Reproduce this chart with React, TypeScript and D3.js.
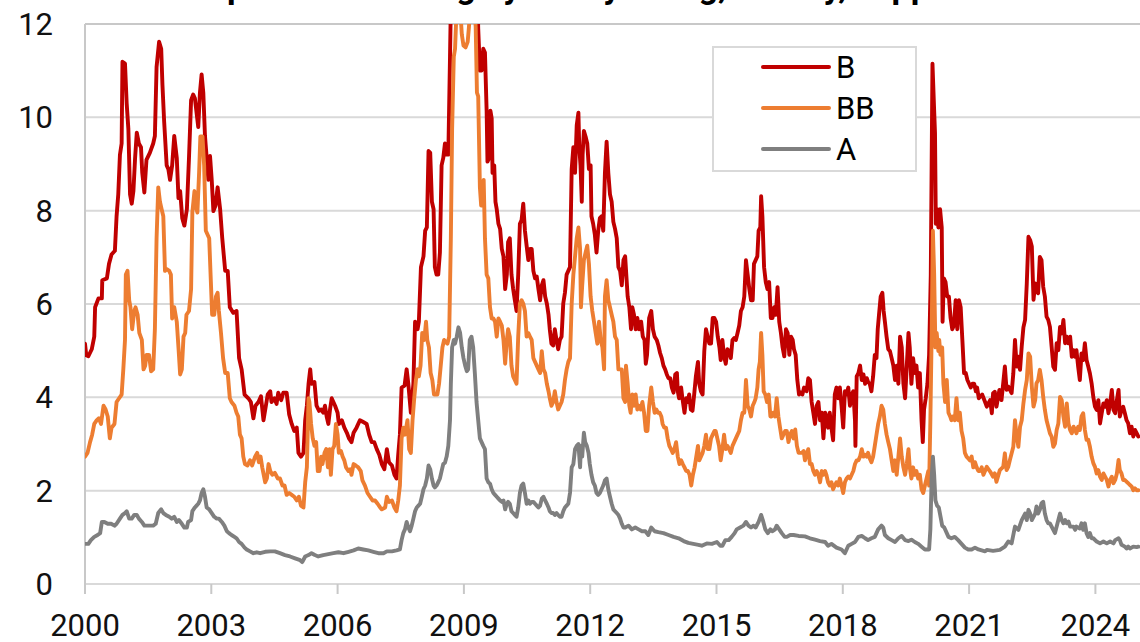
import React from "react";
import * as d3 from "d3";

const titleText = "Spreads in US high yield by rating, weekly, in pp";
const seriesNames = ["B", "BB", "A"];
const xTickYears = [2000, 2003, 2006, 2009, 2012, 2015, 2018, 2021, 2024];
const yTickValues = [0, 2, 4, 6, 8, 10, 12];

const bPoints: [number, number][] = [
[2000.00,5.15],[2000.03,4.9],[2000.08,4.88],[2000.16,5.03],[2000.22,5.3],[2000.24,5.93],[2000.32,6.12],[2000.40,6.12],[2000.41,6.51],[2000.52,6.55],[2000.57,6.86],[2000.63,7.06],[2000.71,7.14],[2000.75,7.88],[2000.79,8.35],[2000.83,9.2],[2000.87,9.44],[2000.89,11.19],[2000.95,11.15],[2000.99,10.3],[2001.03,9.75],[2001.07,8.35],[2001.11,8.15],[2001.15,8.42],[2001.19,9.13],[2001.23,9.67],[2001.28,9.44],[2001.33,9.36],[2001.36,8.81],[2001.41,8.39],[2001.46,9.09],[2001.54,9.24],[2001.62,9.44],[2001.66,9.6],[2001.70,11.08],[2001.76,11.62],[2001.81,11.47],[2001.84,10.69],[2001.88,9.91],[2001.94,8.97],[2001.98,8.89],[2002.02,8.66],[2002.07,8.97],[2002.12,9.6],[2002.18,9.13],[2002.22,8.27],[2002.26,8.42],[2002.31,7.84],[2002.36,7.68],[2002.42,8.03],[2002.47,9.13],[2002.52,10.37],[2002.57,10.49],[2002.61,10.41],[2002.69,9.79],[2002.73,10.53],[2002.77,10.92],[2002.81,10.53],[2002.85,9.6],[2002.89,9.13],[2002.93,8.66],[2002.97,9.17],[2003.01,8.66],[2003.05,7.99],[2003.10,8.11],[2003.15,8.5],[2003.21,8.03],[2003.26,7.41],[2003.33,6.71],[2003.39,6.71],[2003.44,5.93],[2003.52,5.81],[2003.60,5.85],[2003.66,4.84],[2003.72,4.6],[2003.79,4.06],[2003.88,3.98],[2003.94,3.9],[2004.00,3.55],[2004.05,3.82],[2004.12,3.9],[2004.18,4.02],[2004.24,3.51],
[2004.34,4.06],[2004.40,4.13],[2004.43,3.9],[2004.50,3.98],[2004.55,3.86],[2004.59,4.1],[2004.66,3.94],[2004.71,4.1],[2004.79,4.1],[2004.85,3.63],[2004.91,3.43],[2004.97,3.28],[2005.03,3.35],[2005.07,2.81],[2005.13,2.73],[2005.19,2.81],[2005.23,3.51],[2005.27,3.82],[2005.31,4.29],[2005.35,4.6],[2005.38,4.29],[2005.45,4.33],[2005.50,3.82],[2005.56,3.71],[2005.61,3.74],[2005.66,3.67],[2005.70,3.82],[2005.74,3.59],[2005.78,3.43],[2005.82,3.74],[2005.86,3.98],[2005.94,3.82],[2006.00,3.67],[2006.03,3.43],[2006.10,3.51],[2006.16,3.35],[2006.22,3.24],[2006.27,3.12],[2006.33,3.04],[2006.38,3.24],[2006.45,3.35],[2006.53,3.51],[2006.61,3.47],[2006.69,3.43],[2006.75,3.2],[2006.81,3.04],[2006.87,3.04],[2006.93,2.89],[2006.99,2.77],[2007.05,2.57],[2007.11,2.46],[2007.17,2.89],[2007.22,2.61],[2007.29,2.54],[2007.35,2.34],[2007.40,2.26],[2007.44,2.77],[2007.48,3.2],[2007.52,4.21],[2007.59,4.25],[2007.64,4.6],[2007.68,4.29],[2007.74,3.67],[2007.80,4.29],[2007.84,5.62],[2007.90,5.46],[2007.93,5.62],[2007.98,6.79],[2008.04,7.02],[2008.08,7.57],[2008.12,7.64],[2008.16,9.28],[2008.20,9.24],[2008.24,8.19],[2008.28,8.03],[2008.31,6.79],[2008.35,6.63],[2008.39,6.63],[2008.43,7.1],[2008.47,8.97],[2008.51,9.13],[2008.55,9.44],
[2008.59,9.2],[2008.63,9.2],[2008.67,11.3],[2008.71,13.5],[2008.79,15.5],[2008.91,17],[2009.03,16.5],[2009.14,16],[2009.26,14],[2009.33,12.3],[2009.34,11.9],[2009.38,11.0],[2009.42,11.0],[2009.46,11.47],[2009.50,11.39],[2009.54,10.14],[2009.56,9.05],[2009.60,9.13],[2009.63,10.14],[2009.66,9.98],[2009.68,8.81],[2009.72,8.97],[2009.75,8.19],[2009.78,8.03],[2009.82,7.72],[2009.86,7.61],[2009.90,7.18],[2009.94,7.02],[2009.98,6.32],[2010.02,6.63],[2010.05,7.33],[2010.09,7.41],[2010.13,6.63],[2010.17,6.32],[2010.21,6.08],[2010.25,5.85],[2010.29,6.63],[2010.33,7.72],[2010.37,7.8],[2010.41,8.15],[2010.45,7.57],[2010.49,7.25],[2010.53,6.94],[2010.57,7.18],[2010.61,7.18],[2010.65,6.71],[2010.69,6.55],[2010.73,6.59],[2010.77,6.32],[2010.81,6.08],[2010.85,6.4],[2010.89,6.51],[2010.93,6.16],[2010.97,6.01],[2011.01,5.77],[2011.04,5.46],[2011.08,5.15],[2011.12,5.11],[2011.16,5.46],[2011.20,5.23],[2011.24,5.03],[2011.28,5.23],[2011.32,5.3],[2011.36,6.01],[2011.40,6.24],[2011.44,6.63],[2011.48,6.71],[2011.52,6.79],[2011.56,8.89],[2011.60,9.36],[2011.64,8.81],[2011.68,9.83],[2011.72,10.1],[2011.74,9.36],[2011.77,8.97],[2011.80,8.19],[2011.82,9.2],[2011.85,9.71],[2011.89,9.59],[2011.93,9.44],[2011.97,8.89],[2012.01,8.97],[2012.03,7.88],[2012.07,7.72],[2012.11,7.49],[2012.15,7.1],[2012.19,7.57],[2012.23,7.84],[2012.27,7.88],[2012.31,7.57],[2012.35,8.81],[2012.39,9.48],[2012.43,8.81],[2012.47,8.35],[2012.51,8.19],[2012.55,7.76],[2012.59,7.61],[2012.63,7.41],[2012.67,6.79],[2012.71,6.71],[2012.75,6.4],[2012.79,6.94],[2012.83,7.02],
[2012.89,6.16],[2012.93,5.93],[2012.97,5.46],[2013.00,5.93],[2013.04,5.77],[2013.08,5.46],[2013.12,5.7],[2013.16,5.46],[2013.21,5.62],[2013.25,5.3],[2013.29,5.23],[2013.32,4.72],[2013.35,4.91],[2013.40,5.7],[2013.45,5.85],[2013.49,5.46],[2013.53,5.3],[2013.58,5.23],[2013.62,5.11],[2013.66,4.95],[2013.70,4.84],[2013.74,4.68],[2013.78,4.6],[2013.82,4.49],[2013.86,4.41],[2013.90,4.41],[2013.94,4.21],[2013.98,4.1],[2014.02,4.49],[2014.06,4.52],[2014.08,4.13],[2014.11,3.98],[2014.16,4.21],[2014.19,3.98],[2014.24,3.67],[2014.28,3.98],[2014.32,3.9],[2014.35,4.06],[2014.39,3.74],[2014.43,3.71],[2014.47,4.06],[2014.51,4.45],[2014.56,4.76],[2014.59,4.29],[2014.63,4.13],[2014.67,4.06],[2014.71,4.99],[2014.75,5.46],[2014.79,5.3],[2014.83,5.15],[2014.87,5.15],[2014.91,5.7],[2014.95,5.7],[2014.99,5.62],[2015.03,5.3],[2015.07,5.07],[2015.10,4.8],[2015.14,5.23],[2015.18,4.88],[2015.22,4.72],[2015.26,5.03],[2015.30,4.99],[2015.34,4.84],[2015.38,5.23],[2015.42,5.27],[2015.46,5.23],[2015.50,5.38],[2015.54,5.54],[2015.58,5.85],[2015.62,5.93],[2015.66,6.16],[2015.70,6.94],[2015.74,6.63],[2015.78,6.32],[2015.82,6.08],[2015.86,6.08],[2015.89,6.86],[2015.93,6.94],[2015.97,7.02],[2016.00,7.57],[2016.04,7.64],[2016.06,8.31],[2016.09,7.88],[2016.13,6.79],[2016.17,6.47],[2016.21,6.32],[2016.25,6.47],[2016.29,5.7],[2016.33,5.7],[2016.37,5.93],[2016.41,5.77],[2016.45,6.36],[2016.49,5.62],[2016.53,5.38],[2016.57,5.07],[2016.61,4.88],[2016.65,5.46],[2016.69,5.38],[2016.73,4.91],[2016.77,5.3],[2016.81,5.23],[2016.84,5.03],[2016.88,4.91],[2016.92,4.37],[2016.96,4.06],[2017.00,4.1],[2017.04,4.06],[2017.08,4.21],
[2017.14,4.13],[2017.18,4.41],[2017.22,4.37],[2017.26,3.9],[2017.30,3.67],[2017.34,3.43],[2017.38,3.82],[2017.42,3.9],[2017.46,3.51],[2017.50,3.67],[2017.54,3.12],[2017.58,3.67],[2017.61,3.59],[2017.65,3.35],[2017.69,3.67],[2017.73,3.35],[2017.77,3.08],[2017.81,4.06],[2017.85,4.21],[2017.89,3.98],[2017.93,4.21],[2017.97,3.82],[2018.01,3.35],[2018.05,4.13],[2018.09,4.06],[2018.13,4.21],[2018.17,3.82],[2018.21,4.06],[2018.25,4.13],[2018.29,3.5],[2018.30,2.96],[2018.33,4.45],[2018.37,4.52],[2018.41,4.68],[2018.45,4.37],[2018.49,4.49],[2018.53,4.29],[2018.57,4.41],[2018.60,4.33],[2018.64,4.29],[2018.68,4.13],[2018.72,4.45],[2018.76,4.91],[2018.80,4.84],[2018.83,5.46],[2018.86,5.77],[2018.90,6.16],[2018.94,6.24],[2018.97,5.85],[2019.00,5.62],[2019.04,5.3],[2019.08,5.03],[2019.12,4.99],[2019.16,4.84],[2019.20,4.68],[2019.24,4.37],[2019.28,4.68],[2019.32,4.29],[2019.36,5.3],[2019.40,5.07],[2019.44,4.29],[2019.48,3.98],[2019.52,4.68],[2019.56,5.38],[2019.59,5.07],[2019.63,4.29],[2019.67,4.84],[2019.71,4.52],[2019.75,4.68],[2019.79,4.21],[2019.83,4.52],[2019.87,3.51],[2019.90,3.04],[2019.93,3.74],[2019.97,3.98],[2020.01,4.29],[2020.05,4.91],[2020.09,6.63],[2020.11,8.97],[2020.13,11.15],[2020.17,10.14],[2020.19,9.67],[2020.21,7.72],[2020.24,8.03],[2020.27,7.64],[2020.31,8.03],[2020.35,7.64],[2020.37,5.62],[2020.40,6.55],[2020.44,6.47],[2020.48,6.16],[2020.52,6.16],[2020.56,5.7],[2020.60,5.46],[2020.64,5.54],[2020.68,6.08],[2020.72,5.46],[2020.76,6.08],[2020.80,5.93],[2020.84,5.23],[2020.88,4.52],[2020.92,4.52],[2020.96,4.37],[2021.00,4.29],[2021.04,4.21],[2021.08,4.29],[2021.12,4.29],[2021.16,4.13],[2021.19,4.21],[2021.23,3.98],[2021.31,4.06],[2021.38,3.9],
[2021.42,3.8],[2021.50,3.94],[2021.54,3.66],[2021.57,4.09],[2021.61,4.12],[2021.65,3.8],[2021.72,4.16],[2021.77,3.94],[2021.85,4.66],[2021.89,4.16],[2021.93,4.23],[2022.01,4.09],[2022.05,4.51],[2022.09,5.23],[2022.13,4.66],[2022.17,4.87],[2022.21,4.59],[2022.25,5.09],[2022.29,5.5],[2022.33,5.66],[2022.37,6.44],[2022.41,7.44],[2022.45,7.37],[2022.49,7.23],[2022.53,6.09],[2022.57,6.44],[2022.60,6.3],[2022.64,6.23],[2022.68,7.01],[2022.72,6.94],[2022.76,6.37],[2022.80,6.16],[2022.84,5.73],[2022.88,5.66],[2022.92,5.51],[2022.96,5.09],[2023.00,4.66],[2023.04,4.59],[2023.08,5.16],[2023.12,5.01],[2023.16,5.51],[2023.20,5.37],[2023.24,5.66],[2023.28,5.16],[2023.32,5.3],[2023.36,5.16],[2023.40,5.3],[2023.44,4.87],[2023.48,5.01],[2023.52,4.87],[2023.55,5.01],[2023.59,4.66],[2023.63,4.37],[2023.67,4.94],[2023.71,4.8],[2023.75,5.16],[2023.79,4.8],[2023.83,4.66],[2023.87,4.51],[2023.91,4.3],[2023.95,4.01],[2023.99,3.8],[2024.03,3.73],[2024.07,3.94],[2024.11,3.44],[2024.15,3.66],[2024.19,3.87],[2024.23,3.8],[2024.27,3.94],[2024.31,3.66],[2024.35,3.87],[2024.39,4.16],[2024.43,3.73],[2024.47,3.66],[2024.51,3.94],[2024.55,4.16],[2024.58,3.59],[2024.62,3.73],[2024.66,3.8],[2024.70,3.66],[2024.74,3.51],[2024.78,3.44],[2024.82,3.23],[2024.86,3.37],[2024.90,3.16],[2024.94,3.3],[2024.98,3.23],[2025.02,3.16]
];

const bbPoints: [number, number][] = [
[2000.00,2.73],[2000.06,2.81],[2000.12,3.04],[2000.17,3.2],[2000.22,3.43],[2000.28,3.51],[2000.33,3.55],[2000.38,3.43],[2000.44,3.82],[2000.49,3.74],[2000.54,3.59],[2000.59,3.12],[2000.63,3.35],[2000.70,3.43],[2000.75,3.9],[2000.81,3.98],[2000.87,4.06],[2000.91,4.6],[2000.95,5.23],[2000.97,6.63],[2001.01,6.71],[2001.05,6.08],[2001.08,5.93],[2001.12,5.46],[2001.17,5.85],[2001.20,5.93],[2001.25,5.77],[2001.29,5.38],[2001.35,5.23],[2001.39,4.6],[2001.43,4.68],[2001.46,4.91],[2001.52,4.91],[2001.57,4.56],[2001.62,4.6],[2001.66,5.46],[2001.70,7.41],[2001.74,8.5],[2001.78,8.19],[2001.82,8.03],[2001.86,7.88],[2001.90,6.71],[2001.94,6.75],[2002.00,6.71],[2002.04,6.63],[2002.07,5.69],[2002.12,5.93],[2002.18,5.62],[2002.22,5.07],[2002.26,4.49],[2002.30,4.6],[2002.34,5.3],[2002.38,5.38],[2002.41,5.77],[2002.47,5.85],[2002.52,6.32],[2002.55,7.96],[2002.60,8.42],[2002.63,8.11],[2002.67,7.96],[2002.71,8.81],[2002.74,9.59],[2002.79,9.59],[2002.83,8.97],[2002.87,7.57],[2002.91,7.49],[2002.95,7.41],[2002.99,6.47],[2003.02,5.77],[2003.07,5.77],[2003.11,6.16],[2003.15,6.24],[2003.18,5.85],[2003.23,5.38],[2003.28,4.84],[2003.33,4.52],[2003.39,4.52],[2003.44,3.98],[2003.48,3.9],[2003.55,3.82],[2003.60,3.67],[2003.64,3.59],[2003.68,3.2],[2003.72,3.12],[2003.76,2.73],[2003.80,2.57],[2003.86,2.54],[2003.92,2.65],[2003.97,2.54],[2004.04,2.73],[2004.09,2.81],[2004.13,2.61],[2004.17,2.73],[2004.21,2.5],[2004.28,2.18],
[2004.32,2.26],[2004.36,2.57],[2004.40,2.42],[2004.45,2.34],[2004.51,2.38],[2004.58,2.26],[2004.63,2.26],[2004.69,2.11],[2004.74,2.11],[2004.79,1.91],[2004.85,1.95],[2004.91,1.91],[2004.97,1.87],[2005.03,1.79],[2005.08,1.87],[2005.13,1.68],[2005.19,1.64],[2005.23,2.18],[2005.27,2.5],[2005.31,3.98],[2005.33,3.9],[2005.37,3.43],[2005.41,3.12],[2005.45,2.96],[2005.49,3.04],[2005.53,2.42],[2005.57,2.42],[2005.61,2.73],[2005.64,2.57],[2005.69,2.81],[2005.73,2.89],[2005.77,2.5],[2005.81,2.89],[2005.84,2.34],[2005.88,2.89],[2005.92,2.96],[2005.96,3.43],[2006.00,3.2],[2006.03,2.81],[2006.08,2.85],[2006.12,2.73],[2006.16,2.65],[2006.20,2.5],[2006.26,2.42],[2006.30,2.46],[2006.33,2.34],[2006.38,2.57],[2006.43,2.54],[2006.49,2.5],[2006.55,2.42],[2006.59,2.22],[2006.65,2.11],[2006.71,1.95],[2006.77,1.87],[2006.83,1.79],[2006.89,1.79],[2006.95,1.72],[2007.01,1.64],[2007.05,1.6],[2007.13,1.64],[2007.17,1.87],[2007.22,1.76],[2007.29,1.79],[2007.35,1.64],[2007.40,1.56],[2007.44,1.79],[2007.48,2.11],[2007.52,3.12],[2007.56,3.35],[2007.60,3.2],[2007.66,3.51],[2007.70,2.89],[2007.74,2.81],[2007.78,3.51],[2007.82,3.98],[2007.86,4.37],[2007.90,4.6],[2007.93,4.45],[2007.97,4.68],[2008.01,5.38],[2008.06,5.23],[2008.10,5.62],[2008.13,5.23],[2008.17,5.07],[2008.21,4.52],[2008.25,4.37],[2008.29,4.06],[2008.33,4.06],[2008.37,4.06],[2008.41,4.29],[2008.45,4.68],[2008.49,5.07],[2008.53,5.23],
[2008.61,5.15],[2008.65,5.3],[2008.69,7.41],[2008.72,9.75],[2008.76,11.3],[2008.79,11.47],[2008.83,12.4],[2008.88,12.8],[2008.95,11.78],[2008.99,11.54],[2009.04,11.5],[2009.09,11.62],[2009.12,11.94],[2009.17,12.6],[2009.22,12.8],[2009.28,11.94],[2009.31,10.53],[2009.34,10.45],[2009.38,8.5],[2009.41,8.11],[2009.44,8.11],[2009.47,8.66],[2009.50,7.41],[2009.54,6.63],[2009.58,6.55],[2009.62,5.93],[2009.66,5.69],[2009.70,5.69],[2009.74,5.62],[2009.78,5.3],[2009.82,5.69],[2009.86,5.62],[2009.90,5.54],[2009.94,5.23],[2009.98,4.72],[2010.02,5.23],[2010.05,5.46],[2010.09,5.3],[2010.13,4.68],[2010.17,4.45],[2010.21,4.37],[2010.25,4.29],[2010.29,5.3],[2010.33,6.01],[2010.37,6.08],[2010.41,6.01],[2010.45,5.85],[2010.49,5.3],[2010.53,5.38],[2010.57,5.3],[2010.61,5.23],[2010.65,4.84],[2010.69,4.76],[2010.73,4.68],[2010.77,4.6],[2010.81,4.52],[2010.85,4.99],[2010.89,4.6],[2010.93,4.52],[2010.97,4.29],[2011.01,4.13],[2011.04,3.98],[2011.08,3.82],[2011.12,3.9],[2011.16,4.13],[2011.20,3.9],[2011.24,3.74],[2011.28,3.82],[2011.32,3.9],[2011.36,4.06],[2011.40,4.37],[2011.44,4.6],[2011.48,4.76],[2011.52,4.84],[2011.56,6.01],[2011.60,6.63],[2011.64,7.02],[2011.68,7.41],[2011.72,7.64],[2011.76,7.18],[2011.78,5.93],[2011.81,6.4],[2011.85,6.94],[2011.89,7.1],[2011.93,7.25],[2011.97,6.86],[2012.01,6.16],[2012.05,5.85],[2012.09,5.62],[2012.13,5.38],[2012.17,5.15],[2012.21,5.62],[2012.25,5.23],[2012.29,5.07],[2012.33,4.6],[2012.35,6.16],[2012.39,6.51],[2012.43,6.08],[2012.47,5.93],[2012.51,5.77],[2012.55,5.62],[2012.59,5.3],[2012.63,5.23],[2012.67,4.6],[2012.71,4.6],[2012.75,4.6],[2012.79,3.98],[2012.83,3.9],
[2012.85,4.68],[2012.89,4.29],[2012.93,3.82],[2012.96,3.67],[2013.00,4.06],[2013.04,3.82],[2013.08,4.06],[2013.12,3.74],[2013.16,3.82],[2013.20,3.74],[2013.24,3.9],[2013.28,3.67],[2013.32,3.28],[2013.36,3.28],[2013.40,3.82],[2013.45,4.21],[2013.49,3.9],[2013.53,3.67],[2013.57,3.74],[2013.61,3.67],[2013.65,3.67],[2013.69,3.59],[2013.72,3.43],[2013.76,3.35],[2013.80,3.35],[2013.84,3.12],[2013.88,2.96],[2013.92,2.89],[2013.96,2.81],[2014.00,2.89],[2014.04,3.04],[2014.08,2.73],[2014.12,2.57],[2014.16,2.65],[2014.20,2.57],[2014.24,2.5],[2014.28,2.42],[2014.32,2.42],[2014.36,2.34],[2014.40,2.11],[2014.44,2.34],[2014.48,2.5],[2014.52,2.73],[2014.56,2.96],[2014.59,2.65],[2014.63,2.73],[2014.67,2.81],[2014.71,2.96],[2014.75,3.2],[2014.79,2.89],[2014.83,2.89],[2014.87,3.12],[2014.91,3.2],[2014.95,3.28],[2014.98,3.28],[2015.02,3.12],[2015.06,2.96],[2015.10,2.65],[2015.14,2.89],[2015.18,3.2],[2015.22,2.89],[2015.26,2.96],[2015.30,2.89],[2015.34,2.81],[2015.38,2.96],[2015.42,3.04],[2015.46,3.12],[2015.50,3.2],[2015.54,3.28],[2015.58,3.51],[2015.62,3.67],[2015.66,3.67],[2015.70,4.37],[2015.74,3.82],[2015.78,3.74],[2015.82,3.59],[2015.86,3.82],[2015.90,3.9],[2015.93,3.98],[2015.97,4.21],[2016.00,4.6],[2016.03,4.76],[2016.06,5.38],[2016.09,4.91],[2016.12,4.13],[2016.16,4.06],[2016.20,3.9],[2016.24,4.06],[2016.28,3.59],[2016.31,3.59],[2016.35,3.67],[2016.39,3.59],[2016.43,3.98],[2016.47,3.59],[2016.51,3.35],[2016.55,3.12],[2016.59,3.2],[2016.63,3.28],[2016.67,3.28],[2016.71,3.04],[2016.75,3.2],[2016.79,3.28],[2016.83,3.12],[2016.87,3.31],[2016.91,2.96],[2016.95,2.81],[2016.99,2.81],[2017.03,2.81],[2017.07,2.85],
[2017.10,2.65],[2017.14,2.77],[2017.18,2.89],[2017.22,2.57],[2017.26,2.57],[2017.30,2.42],[2017.34,2.34],[2017.38,2.42],[2017.42,2.34],[2017.46,2.18],[2017.50,2.42],[2017.54,2.34],[2017.58,2.42],[2017.61,2.34],[2017.65,2.18],[2017.69,2.11],[2017.73,2.18],[2017.77,2.03],[2017.81,2.11],[2017.85,2.18],[2017.89,2.11],[2017.93,2.26],[2017.97,2.11],[2018.01,1.95],[2018.05,2.18],[2018.09,2.26],[2018.13,2.3],[2018.17,2.26],[2018.21,2.34],[2018.25,2.42],[2018.29,2.57],[2018.33,2.65],[2018.37,2.65],[2018.41,2.73],[2018.45,2.89],[2018.49,2.73],[2018.53,2.77],[2018.57,2.73],[2018.60,2.81],[2018.64,2.69],[2018.68,2.61],[2018.72,2.73],[2018.76,2.96],[2018.80,3.2],[2018.84,3.43],[2018.88,3.59],[2018.92,3.82],[2018.96,3.74],[2019.00,3.43],[2019.04,3.2],[2019.08,3.04],[2019.12,2.89],[2019.16,2.65],[2019.20,2.42],[2019.24,2.65],[2019.28,2.34],[2019.32,2.73],[2019.36,3.12],[2019.40,2.73],[2019.44,2.5],[2019.48,2.34],[2019.52,2.57],[2019.56,2.89],[2019.59,2.5],[2019.63,2.26],[2019.67,2.5],[2019.71,2.34],[2019.75,2.42],[2019.79,2.26],[2019.83,2.34],[2019.87,2.03],[2019.91,1.95],[2019.95,2.11],[2019.99,2.26],[2020.03,2.42],[2020.05,2.11],[2020.08,3.51],[2020.11,5.3],[2020.14,7.57],[2020.17,6.63],[2020.20,5.07],[2020.23,5.38],[2020.27,4.99],[2020.29,5.23],[2020.32,4.91],[2020.36,5.07],[2020.39,4.29],[2020.43,3.9],[2020.47,4.37],[2020.51,3.67],[2020.55,3.59],[2020.58,3.51],[2020.62,3.59],[2020.66,3.51],[2020.70,3.98],[2020.74,3.51],[2020.78,3.67],[2020.82,3.28],[2020.86,3.12],[2020.90,2.81],[2020.94,2.73],[2020.98,2.69],[2021.02,2.65],[2021.06,2.73],[2021.10,2.5],[2021.14,2.61],[2021.18,2.5],[2021.22,2.42],[2021.26,2.42],[2021.30,2.5],[2021.34,2.34],
[2021.42,2.51],[2021.50,2.41],[2021.57,2.3],[2021.61,2.37],[2021.65,2.19],[2021.73,2.44],[2021.81,2.51],[2021.85,2.8],[2021.89,2.44],[2021.93,2.51],[2021.97,2.66],[2022.05,2.94],[2022.09,3.51],[2022.13,3.16],[2022.17,2.94],[2022.21,3.37],[2022.25,3.51],[2022.29,3.87],[2022.33,4.16],[2022.37,4.37],[2022.41,4.94],[2022.45,4.87],[2022.49,4.23],[2022.53,3.8],[2022.57,3.94],[2022.60,4.3],[2022.64,4.37],[2022.68,4.59],[2022.72,4.37],[2022.76,4.01],[2022.80,3.73],[2022.84,3.51],[2022.88,3.37],[2022.92,3.23],[2022.96,3.16],[2023.00,2.94],[2023.04,3.01],[2023.08,3.3],[2023.12,3.44],[2023.16,4.01],[2023.20,3.94],[2023.24,3.59],[2023.28,3.37],[2023.32,3.87],[2023.36,3.44],[2023.40,3.3],[2023.44,3.23],[2023.48,3.37],[2023.52,3.3],[2023.55,3.23],[2023.59,3.37],[2023.63,3.3],[2023.67,3.59],[2023.71,3.66],[2023.75,3.3],[2023.79,3.09],[2023.83,3.09],[2023.87,2.94],[2023.91,2.73],[2023.95,2.59],[2023.99,2.51],[2024.03,2.37],[2024.07,2.44],[2024.11,2.3],[2024.15,2.23],[2024.19,2.37],[2024.23,2.3],[2024.27,2.23],[2024.31,2.09],[2024.35,2.23],[2024.39,2.3],[2024.43,2.16],[2024.47,2.23],[2024.51,2.37],[2024.55,2.66],[2024.58,2.44],[2024.62,2.37],[2024.66,2.23],[2024.70,2.23],[2024.74,2.19],[2024.78,2.16],[2024.82,2.12],[2024.86,2.09],[2024.90,2.01],[2024.94,2.05],[2024.98,2.01],[2025.02,2.01]
];

const aPoints: [number, number][] = [
[2000.00,0.86],[2000.08,0.86],[2000.14,0.94],[2000.22,1.01],[2000.30,1.05],[2000.36,1.09],[2000.40,1.33],[2000.46,1.33],[2000.54,1.29],[2000.62,1.29],[2000.70,1.25],[2000.75,1.29],[2000.83,1.4],[2000.89,1.48],[2000.95,1.52],[2000.99,1.56],[2001.05,1.4],[2001.11,1.4],[2001.17,1.48],[2001.23,1.48],[2001.28,1.4],[2001.35,1.33],[2001.41,1.25],[2001.46,1.25],[2001.54,1.25],[2001.62,1.25],[2001.68,1.29],[2001.74,1.52],[2001.81,1.6],[2001.86,1.52],[2001.92,1.48],[2002.00,1.44],[2002.06,1.4],[2002.12,1.44],[2002.18,1.33],[2002.23,1.37],[2002.30,1.29],[2002.36,1.21],[2002.42,1.21],[2002.45,1.33],[2002.52,1.37],[2002.55,1.56],[2002.61,1.64],[2002.65,1.68],[2002.69,1.72],[2002.73,1.79],[2002.77,1.95],[2002.81,2.03],[2002.85,1.87],[2002.89,1.64],[2002.95,1.6],[2003.01,1.52],[2003.07,1.44],[2003.13,1.4],[2003.18,1.4],[2003.25,1.33],[2003.31,1.25],[2003.37,1.13],[2003.42,1.09],[2003.48,1.05],[2003.55,1.01],[2003.60,0.98],[2003.66,0.9],[2003.72,0.86],[2003.79,0.78],[2003.84,0.74],[2003.92,0.7],[2004.00,0.66],[2004.08,0.68],[2004.16,0.66],[2004.28,0.69],
[2004.40,0.7],[2004.51,0.7],[2004.63,0.66],[2004.75,0.62],[2004.87,0.59],[2004.99,0.55],[2005.11,0.51],[2005.16,0.47],[2005.23,0.59],[2005.31,0.62],[2005.38,0.66],[2005.46,0.62],[2005.54,0.59],[2005.66,0.62],[2005.78,0.64],[2005.90,0.66],[2006.02,0.68],[2006.14,0.66],[2006.26,0.69],[2006.38,0.72],[2006.49,0.76],[2006.61,0.74],[2006.73,0.72],[2006.85,0.69],[2006.97,0.66],[2007.09,0.66],[2007.17,0.7],[2007.29,0.7],[2007.40,0.72],[2007.48,0.74],[2007.52,0.94],[2007.56,1.09],[2007.60,1.17],[2007.64,1.33],[2007.68,1.21],[2007.72,1.13],[2007.76,1.25],[2007.80,1.4],[2007.84,1.56],[2007.88,1.64],[2007.92,1.68],[2007.96,1.72],[2008.00,1.87],[2008.04,2.03],[2008.08,2.11],[2008.12,2.26],[2008.16,2.54],[2008.20,2.46],[2008.24,2.26],[2008.28,2.11],[2008.31,2.07],[2008.35,2.11],[2008.39,2.18],[2008.43,2.26],[2008.47,2.42],[2008.51,2.57],[2008.55,2.6],
[2008.59,2.73],[2008.63,2.96],[2008.67,3.51],[2008.69,4.29],[2008.72,5.07],[2008.76,5.23],[2008.79,5.15],[2008.83,5.3],[2008.87,5.5],[2008.91,5.38],[2008.95,5.07],[2008.99,4.84],[2009.03,4.68],[2009.07,4.56],[2009.10,4.6],[2009.14,5.23],[2009.18,5.3],[2009.22,5.07],[2009.26,4.52],[2009.30,3.9],[2009.34,3.51],[2009.38,3.12],[2009.42,3.04],[2009.46,2.96],[2009.50,2.89],[2009.54,2.26],[2009.58,2.18],[2009.62,2.15],[2009.66,2.03],[2009.70,1.95],[2009.74,1.91],[2009.78,1.87],[2009.82,1.83],[2009.86,1.79],[2009.90,1.76],[2009.94,1.79],[2009.98,1.6],[2010.02,1.72],[2010.05,1.76],[2010.09,1.72],[2010.13,1.56],[2010.17,1.52],[2010.21,1.48],[2010.25,1.44],[2010.29,1.64],[2010.33,1.95],[2010.37,2.11],[2010.41,2.15],[2010.45,1.95],[2010.49,1.72],[2010.53,1.79],[2010.57,1.72],[2010.61,1.76],[2010.65,1.76],[2010.69,1.72],[2010.73,1.68],[2010.77,1.64],[2010.81,1.68],[2010.85,1.83],[2010.89,1.87],[2010.93,1.79],[2010.97,1.72],[2011.01,1.64],[2011.04,1.56],[2011.08,1.52],[2011.12,1.52],[2011.16,1.48],[2011.20,1.52],[2011.24,1.48],[2011.28,1.44],[2011.32,1.44],[2011.36,1.56],[2011.40,1.64],[2011.44,1.68],[2011.48,1.72],[2011.52,1.95],[2011.56,2.5],[2011.60,2.57],[2011.64,2.89],[2011.68,2.96],[2011.72,3.0],[2011.76,2.5],[2011.78,2.96],[2011.81,2.73],[2011.85,3.24],[2011.88,3.04],[2011.92,2.96],[2011.96,2.81],[2011.99,2.57],[2012.03,2.34],[2012.07,2.18],[2012.11,2.11],[2012.15,1.95],[2012.19,1.91],[2012.23,1.95],[2012.27,2.03],[2012.31,2.11],[2012.35,2.22],[2012.39,2.26],[2012.43,2.03],[2012.47,1.87],[2012.51,1.72],[2012.55,1.6],[2012.59,1.56],[2012.63,1.52],[2012.67,1.48],[2012.71,1.4],[2012.75,1.29],[2012.79,1.21],[2012.83,1.21],
[2012.91,1.25],[2012.99,1.17],[2013.07,1.21],[2013.15,1.17],[2013.23,1.13],[2013.31,1.13],[2013.38,1.05],[2013.45,1.21],[2013.53,1.13],[2013.62,1.11],[2013.74,1.09],[2013.86,1.05],[2013.98,1.01],[2014.10,0.98],[2014.22,0.92],[2014.33,0.88],[2014.45,0.86],[2014.57,0.84],[2014.65,0.82],[2014.77,0.87],[2014.89,0.86],[2015.01,0.9],[2015.09,0.82],[2015.14,0.82],[2015.21,0.94],[2015.29,0.94],[2015.36,1.01],[2015.43,1.09],[2015.48,1.17],[2015.56,1.21],[2015.64,1.25],[2015.70,1.33],[2015.76,1.25],[2015.82,1.21],[2015.88,1.25],[2015.93,1.21],[2016.00,1.33],[2016.06,1.48],[2016.10,1.37],[2016.16,1.17],[2016.22,1.09],[2016.28,1.17],[2016.33,1.13],[2016.39,1.17],[2016.43,1.25],[2016.49,1.17],[2016.55,1.09],[2016.62,1.01],[2016.67,1.01],[2016.75,1.05],[2016.83,1.05],[2016.95,1.03],[2017.10,1.02],
[2017.22,0.98],[2017.34,0.95],[2017.46,0.92],[2017.58,0.9],[2017.65,0.82],[2017.73,0.86],[2017.85,0.78],[2017.97,0.74],[2018.05,0.66],[2018.13,0.82],[2018.21,0.86],[2018.29,0.9],[2018.37,1.01],[2018.45,1.03],[2018.53,0.98],[2018.60,0.94],[2018.68,0.98],[2018.76,1.01],[2018.84,1.17],[2018.92,1.25],[2018.96,1.21],[2019.00,1.05],[2019.08,0.98],[2019.16,0.94],[2019.24,0.9],[2019.32,0.98],[2019.40,1.03],[2019.48,0.94],[2019.56,0.92],[2019.63,0.95],[2019.71,0.9],[2019.79,0.86],[2019.87,0.8],[2019.95,0.74],[2020.05,0.74],[2020.08,1.17],[2020.11,2.26],[2020.14,2.73],[2020.17,2.34],[2020.20,1.79],[2020.24,1.68],[2020.28,1.64],[2020.33,1.4],[2020.36,1.25],[2020.41,1.21],[2020.47,1.09],[2020.51,1.01],[2020.58,0.98],[2020.66,1.01],[2020.74,0.94],[2020.82,0.86],[2020.90,0.78],[2020.98,0.74],[2021.06,0.74],[2021.14,0.78],[2021.22,0.74],[2021.30,0.72],[2021.38,0.7],
[2021.42,0.73],[2021.57,0.71],[2021.73,0.73],[2021.85,0.8],[2021.93,0.91],[2022.01,0.87],[2022.09,1.23],[2022.17,1.16],[2022.25,1.37],[2022.33,1.51],[2022.37,1.37],[2022.41,1.59],[2022.45,1.51],[2022.49,1.37],[2022.53,1.44],[2022.57,1.51],[2022.60,1.66],[2022.64,1.51],[2022.68,1.59],[2022.72,1.73],[2022.76,1.76],[2022.80,1.51],[2022.84,1.37],[2022.88,1.3],[2022.92,1.3],[2022.96,1.23],[2023.00,1.16],[2023.04,1.09],[2023.08,1.23],[2023.12,1.37],[2023.16,1.51],[2023.20,1.37],[2023.24,1.3],[2023.28,1.37],[2023.32,1.3],[2023.36,1.34],[2023.40,1.23],[2023.48,1.23],[2023.52,1.16],[2023.55,1.23],[2023.63,1.19],[2023.67,1.3],[2023.71,1.16],[2023.75,1.3],[2023.79,1.09],[2023.83,1.01],[2023.87,1.09],[2023.91,0.98],[2023.95,0.98],[2024.03,0.91],[2024.11,0.87],[2024.19,0.91],[2024.27,0.87],[2024.35,0.91],[2024.43,0.87],[2024.47,0.94],[2024.55,0.98],[2024.58,0.94],[2024.62,0.84],[2024.70,0.8],[2024.74,0.76],[2024.78,0.8],[2024.82,0.76],[2024.90,0.8],[2024.98,0.79],[2025.02,0.8]
];

const seriesData = [bPoints, bbPoints, aPoints];
const seriesColors = ["#c00000", "#ed7d31", "#7f7f7f"];

export default function App() {
  const W = 1140, H = 642;
  const left = 85, right = 1140, top = 24, bottom = 584;
  const x = d3.scaleLinear().domain([2000, 2000 + (right - left) / 42.1]).range([left, right]);
  const y = d3.scaleLinear().domain([0, 12]).range([bottom, top]);
  const line = d3.line<[number, number]>().x(d => x(d[0])).y(d => y(d[1])).curve(d3.curveLinear);
  const font = "Roboto, 'Noto Sans', Arial, sans-serif";
  const legendX = 713, legendY = 47, legendW = 203, legendH = 124;
  const rowY = [67, 108, 149];

  return (
    <svg width={W} height={H} style={{ position: "absolute", left: 0, top: 0, background: "#fff" }} fontFamily={font}>
      <defs>
        <clipPath id="plotClip">
          <rect x={left} y={top} width={right - left + 10} height={bottom - top + 20} />
        </clipPath>
      </defs>
      <rect x={0} y={0} width={W} height={H} fill="#fff" />
      <text x={568} y={-2} textAnchor="middle" fontSize={34} fontWeight="bold" fill="#000">{titleText}</text>
      {yTickValues.map(v => (
        <line key={"g" + v} x1={left} x2={right} y1={y(v)} y2={y(v)} stroke={v === 12 ? "#c8c8c8" : "#d9d9d9"} strokeWidth={2} />
      ))}
      <line x1={left} x2={left} y1={top} y2={bottom + 10} stroke="#c8c8c8" strokeWidth={2} />
      {xTickYears.map(t => (
        <line key={"t" + t} x1={x(t)} x2={x(t)} y1={bottom} y2={bottom + 10} stroke="#c8c8c8" strokeWidth={2} />
      ))}
      {yTickValues.map(v => (
        <text key={"yl" + v} x={53} y={y(v) + 11} textAnchor="end" fontSize={31} fill="#111">{v}</text>
      ))}
      {xTickYears.map(t => (
        <text key={"xl" + t} x={x(t)} y={636} textAnchor="middle" fontSize={31} fill="#111">{t}</text>
      ))}
      <g clipPath="url(#plotClip)">
        {seriesData.map((pts, i) => (
          <path key={seriesNames[i]} d={line(pts) || ""} fill="none" stroke={seriesColors[i]} strokeWidth={3.9} strokeLinejoin="round" strokeLinecap="round" />
        ))}
      </g>
      <rect x={legendX} y={legendY} width={legendW} height={legendH} fill="#fff" stroke="#d9d9d9" strokeWidth={2} />
      {seriesNames.map((n, i) => (
        <g key={"lg" + n}>
          <line x1={763} x2={829} y1={rowY[i]} y2={rowY[i]} stroke={seriesColors[i]} strokeWidth={4} strokeLinecap="round" />
          <text x={836} y={rowY[i] + 11} fontSize={31} fill="#000">{n}</text>
        </g>
      ))}
    </svg>
  );
}
